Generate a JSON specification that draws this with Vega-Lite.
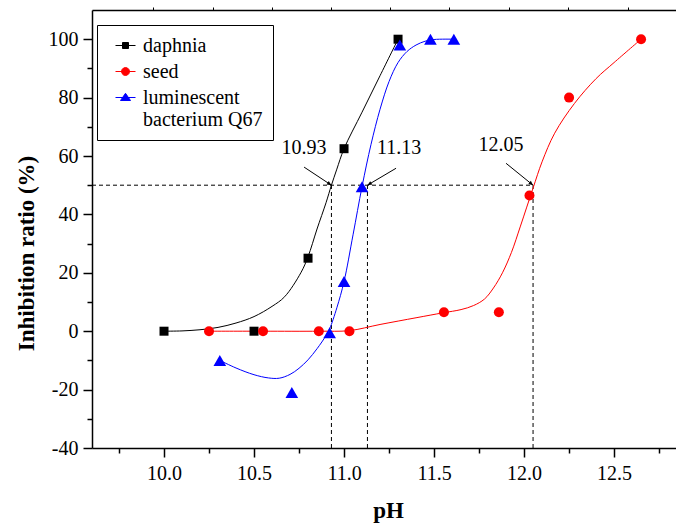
{
  "$schema": "https://vega.github.io/schema/vega-lite/v6.json",
  "width": 584,
  "height": 438,
  "autosize": {"type": "none"},
  "padding": {"left": 92, "top": 10, "right": 0, "bottom": 77},
  "background": "white",
  "config": {"view": {"stroke": null}, "font": "Liberation Serif"},
  "datasets": {
    "points": [
      {"series": "daphnia", "pH": 10.0, "ratio": 0},
      {"series": "daphnia", "pH": 10.5, "ratio": 0},
      {"series": "daphnia", "pH": 10.8, "ratio": 25},
      {"series": "daphnia", "pH": 11.0, "ratio": 62.5},
      {"series": "daphnia", "pH": 11.3, "ratio": 100},
      {"series": "seed", "pH": 10.25, "ratio": 0},
      {"series": "seed", "pH": 10.55, "ratio": 0},
      {"series": "seed", "pH": 10.86, "ratio": 0},
      {"series": "seed", "pH": 11.03, "ratio": 0},
      {"series": "seed", "pH": 11.555, "ratio": 6.5},
      {"series": "seed", "pH": 11.86, "ratio": 6.5},
      {"series": "seed", "pH": 12.03, "ratio": 46.5},
      {"series": "seed", "pH": 12.25, "ratio": 80},
      {"series": "seed", "pH": 12.65, "ratio": 100},
      {"series": "luminescent bacterium Q67", "pH": 10.31, "ratio": -10},
      {"series": "luminescent bacterium Q67", "pH": 10.71, "ratio": -21},
      {"series": "luminescent bacterium Q67", "pH": 10.92, "ratio": -0.5},
      {"series": "luminescent bacterium Q67", "pH": 11.0, "ratio": 17},
      {"series": "luminescent bacterium Q67", "pH": 11.1, "ratio": 49.5},
      {"series": "luminescent bacterium Q67", "pH": 11.31, "ratio": 98},
      {"series": "luminescent bacterium Q67", "pH": 11.48, "ratio": 100},
      {"series": "luminescent bacterium Q67", "pH": 11.61, "ratio": 100}
    ],
    "curves": [
      {"series": "daphnia", "pH": 10.0, "ratio": 0},
      {"series": "daphnia", "pH": 10.1, "ratio": 0.1},
      {"series": "daphnia", "pH": 10.2, "ratio": 0.5},
      {"series": "daphnia", "pH": 10.3, "ratio": 1.3},
      {"series": "daphnia", "pH": 10.4, "ratio": 2.8},
      {"series": "daphnia", "pH": 10.5, "ratio": 5},
      {"series": "daphnia", "pH": 10.6, "ratio": 8.5},
      {"series": "daphnia", "pH": 10.67, "ratio": 11.8},
      {"series": "daphnia", "pH": 10.76, "ratio": 20},
      {"series": "daphnia", "pH": 10.8, "ratio": 25.5},
      {"series": "daphnia", "pH": 10.85, "ratio": 35},
      {"series": "daphnia", "pH": 10.9, "ratio": 44},
      {"series": "daphnia", "pH": 10.93, "ratio": 50},
      {"series": "daphnia", "pH": 10.96, "ratio": 55.5},
      {"series": "daphnia", "pH": 11.0, "ratio": 62.5},
      {"series": "daphnia", "pH": 11.1, "ratio": 75},
      {"series": "daphnia", "pH": 11.2, "ratio": 87.5},
      {"series": "daphnia", "pH": 11.3, "ratio": 100},
      {"series": "seed", "pH": 10.25, "ratio": 0},
      {"series": "seed", "pH": 10.55, "ratio": 0},
      {"series": "seed", "pH": 10.86, "ratio": 0},
      {"series": "seed", "pH": 11.03, "ratio": 0.2},
      {"series": "seed", "pH": 11.2, "ratio": 2.3},
      {"series": "seed", "pH": 11.4, "ratio": 4.6},
      {"series": "seed", "pH": 11.55, "ratio": 6.3},
      {"series": "seed", "pH": 11.65, "ratio": 7.4},
      {"series": "seed", "pH": 11.72, "ratio": 8.8},
      {"series": "seed", "pH": 11.78, "ratio": 11},
      {"series": "seed", "pH": 11.83, "ratio": 14.8},
      {"series": "seed", "pH": 11.88, "ratio": 20},
      {"series": "seed", "pH": 11.93, "ratio": 27},
      {"series": "seed", "pH": 11.98, "ratio": 36},
      {"series": "seed", "pH": 12.05, "ratio": 49},
      {"series": "seed", "pH": 12.1, "ratio": 58},
      {"series": "seed", "pH": 12.17, "ratio": 67.8},
      {"series": "seed", "pH": 12.28, "ratio": 78},
      {"series": "seed", "pH": 12.4, "ratio": 86.5},
      {"series": "seed", "pH": 12.5, "ratio": 92},
      {"series": "seed", "pH": 12.65, "ratio": 100},
      {"series": "luminescent bacterium Q67", "pH": 10.31, "ratio": -10},
      {"series": "luminescent bacterium Q67", "pH": 10.4, "ratio": -12.6},
      {"series": "luminescent bacterium Q67", "pH": 10.5, "ratio": -14.9},
      {"series": "luminescent bacterium Q67", "pH": 10.58, "ratio": -16},
      {"series": "luminescent bacterium Q67", "pH": 10.64, "ratio": -16.1},
      {"series": "luminescent bacterium Q67", "pH": 10.7, "ratio": -14.8},
      {"series": "luminescent bacterium Q67", "pH": 10.75, "ratio": -12.7},
      {"series": "luminescent bacterium Q67", "pH": 10.8, "ratio": -9.8},
      {"series": "luminescent bacterium Q67", "pH": 10.85, "ratio": -6},
      {"series": "luminescent bacterium Q67", "pH": 10.9, "ratio": -1.5},
      {"series": "luminescent bacterium Q67", "pH": 10.92, "ratio": 0.8},
      {"series": "luminescent bacterium Q67", "pH": 10.96, "ratio": 8},
      {"series": "luminescent bacterium Q67", "pH": 11.0, "ratio": 17},
      {"series": "luminescent bacterium Q67", "pH": 11.05, "ratio": 33},
      {"series": "luminescent bacterium Q67", "pH": 11.1, "ratio": 49.5},
      {"series": "luminescent bacterium Q67", "pH": 11.15, "ratio": 64},
      {"series": "luminescent bacterium Q67", "pH": 11.2, "ratio": 76},
      {"series": "luminescent bacterium Q67", "pH": 11.25, "ratio": 85.5},
      {"series": "luminescent bacterium Q67", "pH": 11.3, "ratio": 92},
      {"series": "luminescent bacterium Q67", "pH": 11.35, "ratio": 95.8},
      {"series": "luminescent bacterium Q67", "pH": 11.4, "ratio": 98},
      {"series": "luminescent bacterium Q67", "pH": 11.45, "ratio": 99.3},
      {"series": "luminescent bacterium Q67", "pH": 11.5, "ratio": 99.9},
      {"series": "luminescent bacterium Q67", "pH": 11.61, "ratio": 100}
    ],
    "guides": [
      {"x": 9.6, "x2": 12.05, "y": 50, "y2": 50},
      {"x": 10.93, "x2": 10.93, "y": -40, "y2": 50},
      {"x": 11.13, "x2": 11.13, "y": -40, "y2": 50},
      {"x": 12.05, "x2": 12.05, "y": -40, "y2": 50}
    ],
    "arrows": [
      {"id": "a1", "x": 10.778, "y": 56.2, "x2": 10.93, "y2": 50},
      {"id": "a2", "x": 11.289, "y": 55.8, "x2": 11.13, "y2": 50},
      {"id": "a3", "x": 11.9, "y": 57.5, "x2": 12.05, "y2": 50}
    ],
    "labels": [
      {"text": "10.93", "x": 10.778, "y": 62.7},
      {"text": "11.13", "x": 11.306, "y": 62.7},
      {"text": "12.05", "x": 11.872, "y": 63.7}
    ],
    "legendItems": [
      {"series": "daphnia", "pH": 20, "ratio": 0},
      {"series": "seed", "pH": 20, "ratio": 0},
      {"series": "luminescent bacterium Q67", "pH": 20, "ratio": 0}
    ]
  },
  "resolve": {"axis": {"x": "independent", "y": "independent"}},
  "layer": [
    {
      "data": {"name": "guides"},
      "mark": {"type": "rule", "color": "black", "strokeWidth": 1, "strokeDash": [4, 3]},
      "encoding": {
        "x": {"field": "x", "type": "quantitative", "scale": {"domain": [9.6, 12.844], "nice": false, "zero": false},
          "axis": {
            "orient": "bottom",
            "values": [9.75, 10, 10.25, 10.5, 10.75, 11, 11.25, 11.5, 11.75, 12, 12.25, 12.5, 12.75],
            "format": ".1f",
            "labelExpr": "abs(datum.value * 2 - round(datum.value * 2)) < 0.01 ? datum.label : ''",
            "tickSize": {"condition": {"test": "abs(datum.value * 2 - round(datum.value * 2)) < 0.01", "value": 9}, "value": 5},
            "tickColor": "black", "tickWidth": 1.5, "domainColor": "black", "domainWidth": 1.5,
            "labelFont": "Liberation Serif", "labelFontSize": 20, "labelColor": "black", "labelPadding": 6,
            "grid": false,
            "title": "pH", "titleFont": "Liberation Serif", "titleFontSize": 23, "titleFontWeight": "bold", "titleColor": "black",
            "titleX": 296, "titleY": 69, "titleBaseline": "alphabetic", "titleAlign": "center"
          }},
        "x2": {"field": "x2"},
        "y": {"field": "y", "type": "quantitative", "scale": {"domain": [-40, 110], "nice": false, "zero": false},
          "axis": {
            "orient": "left",
            "values": [-40, -30, -20, -10, 0, 10, 20, 30, 40, 50, 60, 70, 80, 90, 100],
            "labelExpr": "datum.value % 20 == 0 ? replace(datum.label, '\u2212', '-') : ''",
            "tickSize": {"condition": {"test": "datum.value % 20 == 0", "value": 9}, "value": 5},
            "tickColor": "black", "tickWidth": 1.5, "domainColor": "black", "domainWidth": 1.5,
            "labelFont": "Liberation Serif", "labelFontSize": 20, "labelColor": "black", "labelPadding": 5,
            "grid": false,
            "title": "Inhibition ratio (%)", "titleFont": "Liberation Serif", "titleFontSize": 23, "titleFontWeight": "bold", "titleColor": "black",
            "titleX": -59, "titleY": 243, "titleAngle": -90, "titleBaseline": "alphabetic", "titleAlign": "center"
          }},
        "y2": {"field": "y2"}
      }
    },
    {
      "data": {"name": "curves"},
      "transform": [{"filter": "datum.series == 'daphnia'"}],
      "mark": {"type": "line", "strokeWidth": 1, "interpolate": "catmull-rom", "color": "#000000"},
      "encoding": {
        "x": {"field": "pH", "type": "quantitative",
          "axis": {"orient": "top", "values": [9.939, 10.272, 10.6, 10.928, 11.256, 11.583, 11.917, 12.244, 12.578], "labels": false, "title": null, "tickSize": 3, "tickColor": "black", "tickWidth": 1, "domainColor": "black", "domainWidth": 1.5, "grid": false}},
        "y": {"field": "ratio", "type": "quantitative", "axis": null}
      }
    },
    {
      "data": {"name": "curves"},
      "transform": [{"filter": "datum.series == 'seed'"}],
      "mark": {"type": "line", "strokeWidth": 1, "interpolate": "catmull-rom", "color": "#ff0000"},
      "encoding": {
        "x": {"field": "pH", "type": "quantitative", "axis": null},
        "y": {"field": "ratio", "type": "quantitative", "axis": null}
      }
    },
    {
      "data": {"name": "curves"},
      "transform": [{"filter": "datum.series == 'luminescent bacterium Q67'"}],
      "mark": {"type": "line", "strokeWidth": 1, "interpolate": "catmull-rom", "color": "#0000ff"},
      "encoding": {
        "x": {"field": "pH", "type": "quantitative", "axis": null},
        "y": {"field": "ratio", "type": "quantitative", "axis": null}
      }
    },
    {
      "data": {"name": "points"},
      "transform": [{"filter": "datum.series == 'daphnia'"}],
      "mark": {"type": "point", "shape": "square", "filled": true, "opacity": 1, "strokeWidth": 0, "size": 81, "color": "#000000"},
      "encoding": {
        "x": {"field": "pH", "type": "quantitative", "axis": null},
        "y": {"field": "ratio", "type": "quantitative", "axis": null}
      }
    },
    {
      "data": {"name": "points"},
      "transform": [{"filter": "datum.series == 'seed'"}],
      "mark": {"type": "point", "shape": "circle", "filled": true, "opacity": 1, "strokeWidth": 0, "size": 100, "color": "#ff0000"},
      "encoding": {
        "x": {"field": "pH", "type": "quantitative", "axis": null},
        "y": {"field": "ratio", "type": "quantitative", "axis": null}
      }
    },
    {
      "data": {"name": "points"},
      "transform": [{"filter": "datum.series == 'luminescent bacterium Q67'"}],
      "mark": {"type": "point", "shape": "triangle-up", "filled": true, "opacity": 1, "strokeWidth": 0, "size": 160, "color": "#0000ff"},
      "encoding": {
        "x": {"field": "pH", "type": "quantitative", "axis": null},
        "y": {"field": "ratio", "type": "quantitative", "axis": null}
      }
    },
    {
      "data": {"name": "arrows"},
      "mark": {"type": "rule", "color": "black", "strokeWidth": 1},
      "encoding": {
        "x": {"field": "x", "type": "quantitative", "axis": null},
        "y": {"field": "y", "type": "quantitative", "axis": null},
        "x2": {"field": "x2"},
        "y2": {"field": "y2"}
      }
    },
    {
      "data": {"name": "arrows"},
      "transform": [{"filter": "datum.id == 'a1'"}],
      "mark": {"type": "point", "shape": "M0,0L-2,-0.9L-2,0.9Z", "filled": true, "color": "black", "opacity": 1, "size": 20, "angle": 33},
      "encoding": {
        "x": {"field": "x2", "type": "quantitative", "axis": null},
        "y": {"field": "y2", "type": "quantitative", "axis": null}
      }
    },
    {
      "data": {"name": "arrows"},
      "transform": [{"filter": "datum.id == 'a2'"}],
      "mark": {"type": "point", "shape": "M0,0L-2,-0.9L-2,0.9Z", "filled": true, "color": "black", "opacity": 1, "size": 20, "angle": 149},
      "encoding": {
        "x": {"field": "x2", "type": "quantitative", "axis": null},
        "y": {"field": "y2", "type": "quantitative", "axis": null}
      }
    },
    {
      "data": {"name": "arrows"},
      "transform": [{"filter": "datum.id == 'a3'"}],
      "mark": {"type": "point", "shape": "M0,0L-2,-0.9L-2,0.9Z", "filled": true, "color": "black", "opacity": 1, "size": 20, "angle": 39},
      "encoding": {
        "x": {"field": "x2", "type": "quantitative", "axis": null},
        "y": {"field": "y2", "type": "quantitative", "axis": null}
      }
    },
    {
      "data": {"name": "labels"},
      "mark": {"type": "text", "font": "Liberation Serif", "fontSize": 20, "color": "black", "align": "center", "baseline": "middle"},
      "encoding": {
        "x": {"field": "x", "type": "quantitative", "axis": null},
        "y": {"field": "y", "type": "quantitative", "axis": null},
        "text": {"field": "text"}
      }
    },
    {
      "data": {"name": "legendItems"},
      "mark": {"type": "point", "filled": true, "opacity": 1, "clip": true, "strokeWidth": 1},
      "encoding": {
        "x": {"field": "pH", "type": "quantitative", "axis": null},
        "y": {"field": "ratio", "type": "quantitative", "axis": null},
        "fill": {"field": "series", "type": "nominal",
          "scale": {"domain": ["daphnia", "seed", "luminescent bacterium Q67"], "range": ["#000000", "#ff0000", "#0000ff"]},
          "legend": {
            "title": null, "orient": "none", "legendX": 5, "legendY": 15,
            "padding": 10, "rowPadding": 5, "symbolSize": 400, "symbolOffset": 8, "labelOffset": 7,
            "symbolStrokeWidth": 1,
            "labelFont": "Liberation Serif", "labelFontSize": 20, "labelColor": "black", "labelLimit": 0,
            "labelExpr": "datum.label == 'luminescent bacterium Q67' ? ['luminescent', 'bacterium Q67'] : datum.label",
            "strokeColor": "black", "fillColor": "white"
          }},
        "stroke": {"field": "series", "type": "nominal",
          "scale": {"domain": ["daphnia", "seed", "luminescent bacterium Q67"], "range": ["#000000", "#ff0000", "#0000ff"]},
          "legend": {
            "title": null, "orient": "none", "legendX": 5, "legendY": 15,
            "padding": 10, "rowPadding": 5, "symbolSize": 400, "symbolOffset": 8, "labelOffset": 7,
            "symbolStrokeWidth": 1,
            "labelFont": "Liberation Serif", "labelFontSize": 20, "labelColor": "black", "labelLimit": 0,
            "labelExpr": "datum.label == 'luminescent bacterium Q67' ? ['luminescent', 'bacterium Q67'] : datum.label",
            "strokeColor": "black", "fillColor": "white"
          }},
        "shape": {"field": "series", "type": "nominal",
          "scale": {"domain": ["daphnia", "seed", "luminescent bacterium Q67"],
            "range": [
              "M-1,0L1,0M-0.3,-0.3L0.3,-0.3L0.3,0.3L-0.3,0.3Z",
              "M-1,0L1,0M0.4,0L0.346,0.2L0.2,0.346L0,0.4L-0.2,0.346L-0.346,0.2L-0.4,0L-0.346,-0.2L-0.2,-0.346L0,-0.4L0.2,-0.346L0.346,-0.2Z",
              "M-1,0L1,0M0,-0.42L0.5,0.3L-0.5,0.3Z"]},
          "legend": {
            "title": null, "orient": "none", "legendX": 5, "legendY": 15,
            "padding": 10, "rowPadding": 5, "symbolSize": 400, "symbolOffset": 8, "labelOffset": 7,
            "symbolStrokeWidth": 1,
            "labelFont": "Liberation Serif", "labelFontSize": 20, "labelColor": "black", "labelLimit": 0,
            "labelExpr": "datum.label == 'luminescent bacterium Q67' ? ['luminescent', 'bacterium Q67'] : datum.label",
            "strokeColor": "black", "fillColor": "white"
          }}
      }
    }
  ]
}
